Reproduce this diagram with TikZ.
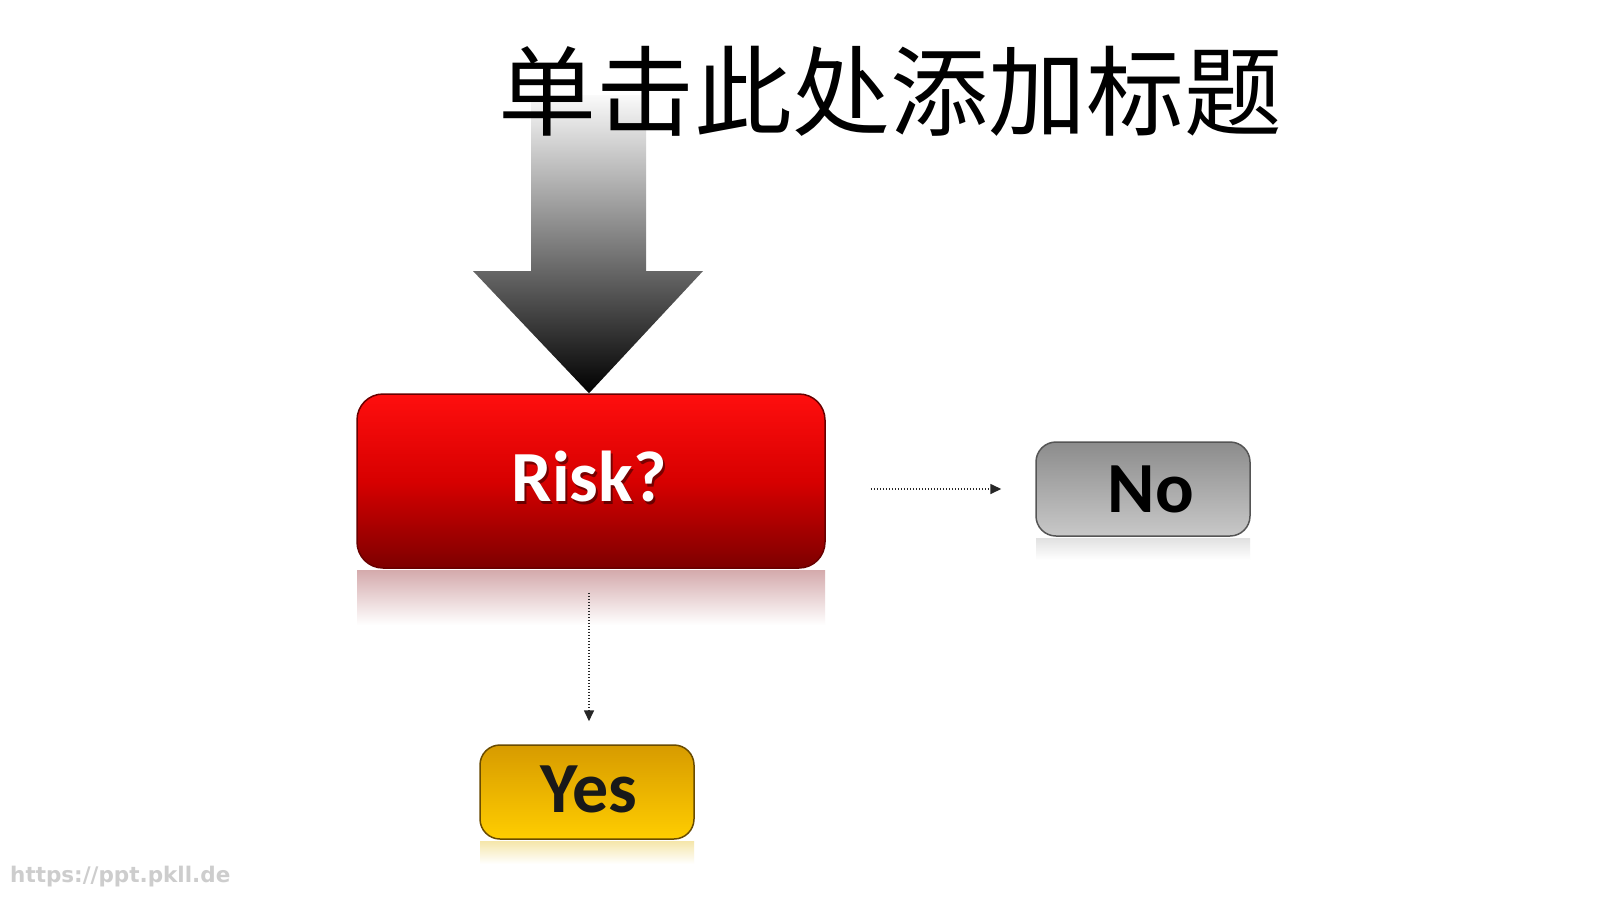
\documentclass[tikz,border=0pt]{standalone}
\usepackage{fontspec}
\setmainfont{Carlito}
\newfontfamily\cjk{Noto Sans CJK SC}
\newfontfamily\wmfont{DejaVu Sans}
\usetikzlibrary{arrows.meta}
\definecolor{riskTop}{RGB}{255,14,14}
\definecolor{riskMid}{RGB}{215,0,0}
\definecolor{riskBot}{RGB}{125,0,0}
\definecolor{riskEdge}{RGB}{105,0,0}
\definecolor{riskRefl}{RGB}{212,170,172}
\definecolor{noTop}{RGB}{140,140,140}
\definecolor{noBot}{RGB}{200,200,200}
\definecolor{noEdge}{RGB}{85,85,85}
\definecolor{noRefl}{RGB}{225,225,225}
\definecolor{yesTop}{RGB}{215,155,0}
\definecolor{yesBot}{RGB}{255,205,0}
\definecolor{yesEdge}{RGB}{105,75,0}
\definecolor{yesRefl}{RGB}{245,230,170}
\definecolor{wmgray}{RGB}{205,205,205}
\begin{document}
\begin{tikzpicture}[x=1pt,y=-1pt,
  boxbase/.style={rounded corners=20pt, line width=1.5pt, inner sep=0pt, font=\bfseries},
  riskbox/.style={boxbase, rounded corners=26pt, draw=riskEdge, top color=riskTop, bottom color=riskBot, middle color=riskMid,
     minimum width=468pt, minimum height=174pt},
  nobox/.style={boxbase, draw=noEdge, top color=noTop, bottom color=noBot,
     minimum width=214pt, minimum height=94pt},
  yesbox/.style={boxbase, draw=yesEdge, top color=yesTop, bottom color=yesBot,
     minimum width=214pt, minimum height=94pt},
  boxtext/.style={inner sep=0pt, font=\bfseries\fontsize{72}{72}\selectfont},
  conn/.style={line width=1.6pt, dash pattern=on 1.6pt off 1.4pt, black!85,
     -{Triangle[length=11pt,width=10pt]}},
]
\useasboundingbox[fill=white] (0,0) rectangle (1600,900);

% reflections
\shade[top color=riskRefl, bottom color=white] (357,570) rectangle (825,625);
\shade[top color=noRefl, bottom color=white] (1036,538) rectangle (1250,560);
\shade[top color=yesRefl, bottom color=white] (480,841) rectangle (694,864);

% boxes
\node[riskbox] (risk) at (591,481) {};
\node[boxtext, text=black, opacity=0.45] (riskshadow) at (591,479) {Risk?};
\node[boxtext, text=white] (risktext) at (589,476) {Risk?};
\node[nobox] (no) at (1143,489) {};
\node[boxtext, text=black] (notext) at (1151,489) {No};
\node[yesbox] (yes) at (587,792) {};
\node[boxtext, text=black!90] (yestext) at (589,789) {Yes};

% big arrow
\shade[top color=gray!4, bottom color=black]
  (531,95) -- (646,95) -- (646,271) -- (703,271) -- (risktext |- risk.north) -- (473,271) -- (531,271) -- cycle;

% title
\node[font=\cjk\fontsize{98}{98}\selectfont, inner sep=0pt] (title) at (890,91) {单击此处添加标题};

% connectors
\draw[conn, shorten <=45pt, shorten >=34pt] (risk.east |- no.west) -- (no.west);
\draw[conn, shorten <=24pt, shorten >=23pt] (risktext |- risk.south) -- (risktext |- yes.north);

% watermark
\node[anchor=west, text=wmgray, font=\wmfont\bfseries\fontsize{21.5}{21.5}\selectfont, inner sep=0pt] (wm) at (10,877) {https://ppt.pkll.de};
\end{tikzpicture}
\end{document}
